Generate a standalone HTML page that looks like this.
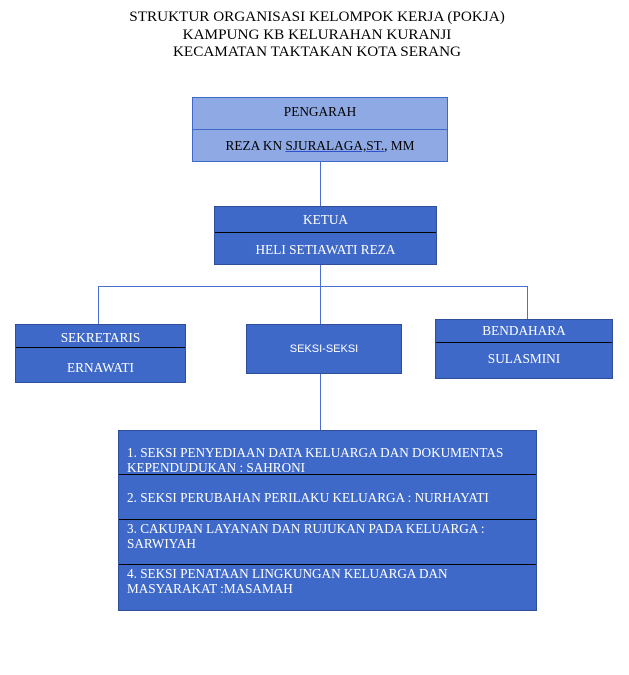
<!DOCTYPE html>
<html><head><meta charset="utf-8"><style>
body{margin:0;width:629px;height:675px;background:#fff;position:relative;font-family:"Liberation Serif",serif;overflow:hidden}
.a{position:absolute;box-sizing:border-box}
.t{left:0;width:634px;text-align:center;font-size:15.2px;color:#000;line-height:17.5px;top:8px}
.b{background:#3f69c8;border:1px solid #2f4f9a;color:#fff;font-size:13.3px}
.c{position:absolute;left:0;right:0;text-align:center}
.l{position:absolute;background:#4a6fd0}
.d{position:absolute;left:0;right:0;height:1px;background:#000}
.s{position:absolute;left:8px;right:4px;font-size:13.2px;line-height:15px;color:#fff}
</style></head><body>
<div class="a t">STRUKTUR ORGANISASI KELOMPOK KERJA (POKJA)<br>KAMPUNG KB KELURAHAN KURANJI<br>KECAMATAN TAKTAKAN KOTA SERANG</div>

<div class="l" style="left:320px;top:161px;width:1px;height:125px"></div>
<div class="l" style="left:98px;top:286px;width:430px;height:1px"></div>
<div class="l" style="left:98px;top:286px;width:1px;height:38px"></div>
<div class="l" style="left:527px;top:286px;width:1px;height:33px"></div>
<div class="l" style="left:320px;top:286px;width:1px;height:144px"></div>

<div class="a" style="left:192px;top:97px;width:256px;height:65px;background:#8ea9e3;border:1px solid #3f69c8;font-size:13.3px;color:#000">
<div class="c" style="top:6px">PENGARAH</div>
<div class="l" style="left:0;right:0;top:31px;height:1px;background:#3f69c8"></div>
<div class="c" style="top:40px">REZA KN <span style="text-decoration:underline;text-decoration-color:#3050d0">SJURALAGA,ST.</span>, MM</div>
</div>

<div class="a b" style="left:214px;top:206px;width:223px;height:59px">
<div class="c" style="top:5px">KETUA</div>
<div class="d" style="top:25px"></div>
<div class="c" style="top:35px">HELI SETIAWATI REZA</div>
</div>

<div class="a b" style="left:15px;top:324px;width:171px;height:59px">
<div class="c" style="top:5px">SEKRETARIS</div>
<div class="d" style="top:22px"></div>
<div class="c" style="top:35px">ERNAWATI</div>
</div>

<div class="a b" style="left:246px;top:324px;width:156px;height:50px;font-family:'Liberation Sans',sans-serif;font-size:11px">
<div class="c" style="top:18px">SEKSI-SEKSI</div>
</div>

<div class="a b" style="left:435px;top:319px;width:178px;height:60px">
<div class="c" style="top:3px">BENDAHARA</div>
<div class="d" style="top:22px"></div>
<div class="c" style="top:31px">SULASMINI</div>
</div>

<div class="a b" style="left:118px;top:430px;width:419px;height:181px">
<div class="s" style="top:14px">1. SEKSI PENYEDIAAN DATA KELUARGA DAN DOKUMENTAS<br>KEPENDUDUKAN : SAHRONI</div>
<div class="d" style="top:43px"></div>
<div class="s" style="top:59px">2. SEKSI PERUBAHAN PERILAKU KELUARGA : NURHAYATI</div>
<div class="d" style="top:88px"></div>
<div class="s" style="top:90px">3. CAKUPAN LAYANAN DAN RUJUKAN PADA KELUARGA :<br>SARWIYAH</div>
<div class="d" style="top:133px"></div>
<div class="s" style="top:135px">4. SEKSI PENATAAN LINGKUNGAN KELUARGA DAN<br>MASYARAKAT :MASAMAH</div>
</div>
</body></html>
